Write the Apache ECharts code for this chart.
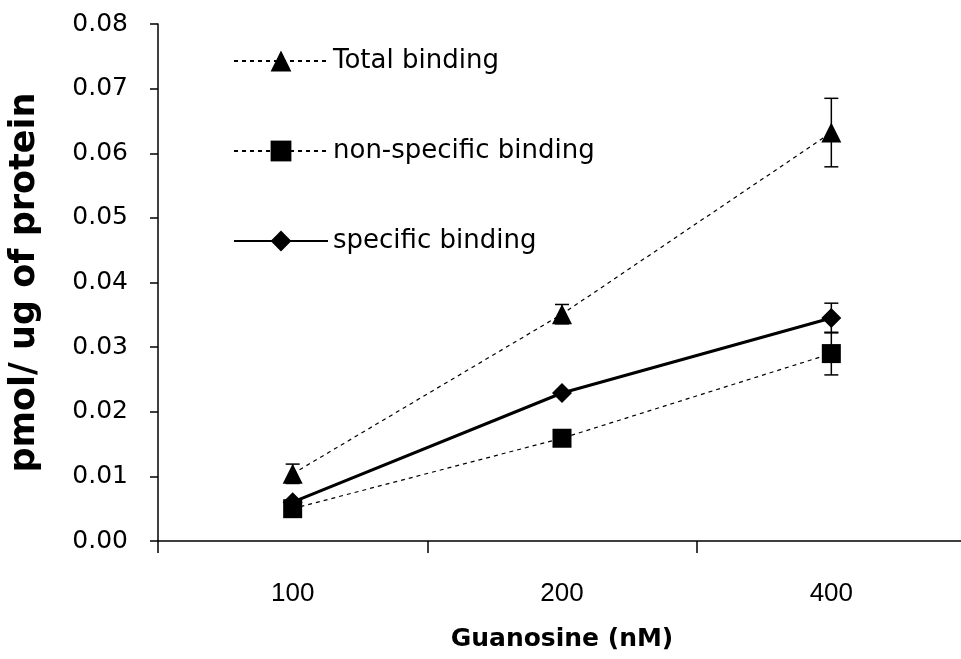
<!DOCTYPE html>
<html>
<head>
<meta charset="utf-8">
<script src="https://cdn.jsdelivr.net/npm/echarts@6/dist/echarts.min.js"></script>
<style>
html,body{margin:0;padding:0;background:#fff;}
#chart{width:961px;height:659px;}
</style>
</head>
<body>
<div id="chart"></div>
<script>
const categories = ['100', '200', '400'];
const totalBinding = [0.0104, 0.0351, 0.0632];
const totalErr = [0.0015, 0.0015, 0.0053];
const nonSpecific = [0.0050, 0.0159, 0.0290];
const nonSpecificErr = [0, 0, 0.0033];
const specific = [0.0060, 0.0229, 0.0345];
const specificErr = [0, 0, 0.0023];
const seriesNames = ['Total binding', 'non-specific binding', 'specific binding'];

function errData(vals, errs) {
  return vals.map((v, i) => [i, v, errs[i]]);
}

function renderErr(params, api) {
  const i = api.value(0), v = api.value(1), e = api.value(2);
  if (!e) return null;
  const top = api.coord([i, v + e]);
  const bot = api.coord([i, v - e]);
  const cap = 7;
  const style = { stroke: '#000', lineWidth: 1.5 };
  return {
    type: 'group',
    children: [
      { type: 'line', shape: { x1: top[0], y1: top[1], x2: bot[0], y2: bot[1] }, style },
      { type: 'line', shape: { x1: top[0] - cap, y1: top[1], x2: top[0] + cap, y2: top[1] }, style },
      { type: 'line', shape: { x1: bot[0] - cap, y1: bot[1], x2: bot[0] + cap, y2: bot[1] }, style }
    ]
  };
}

const chart = echarts.init(document.getElementById('chart'));
chart.setOption({
  animation: false,
  backgroundColor: '#fff',
  grid: { left: 158, width: 808, top: 24, bottom: 118, containLabel: false, outerBoundsMode: 'none' },
  legend: {
    orient: 'vertical',
    left: 228,
    top: 43,
    itemWidth: 94,
    itemHeight: 26,
    itemGap: 64,
    data: seriesNames,
    textStyle: { fontFamily: 'DejaVu Sans', fontSize: 26, color: '#000' }
  },
  xAxis: {
    type: 'category',
    data: categories,
    boundaryGap: true,
    axisLine: { lineStyle: { color: '#000', width: 1.5 } },
    axisTick: { show: true, length: 12, alignWithLabel: false, lineStyle: { color: '#000', width: 1.5 } },
    axisLabel: { margin: 40, fontFamily: 'Liberation Sans', fontSize: 26, color: '#000' },
    splitLine: { show: false },
    name: 'Guanosine (nM)',
    nameLocation: 'middle',
    nameGap: 86,
    nameTextStyle: { fontFamily: 'DejaVu Sans', fontWeight: 'bold', fontSize: 25, color: '#000' }
  },
  yAxis: {
    type: 'value',
    min: 0,
    max: 0.08,
    interval: 0.01,
    axisLine: { show: true, lineStyle: { color: '#000', width: 1.5 } },
    axisTick: { show: true, length: 8, lineStyle: { color: '#000', width: 1.5 } },
    axisLabel: { margin: 30, fontFamily: 'DejaVu Sans', fontSize: 25, color: '#000', formatter: v => v.toFixed(2) },
    splitLine: { show: false },
    name: 'pmol/ ug of protein',
    nameLocation: 'middle',
    nameGap: 116,
    nameTextStyle: { fontFamily: 'DejaVu Sans', fontWeight: 'bold', fontSize: 35, color: '#000' }
  },
  series: [
    {
      name: seriesNames[0], type: 'line', data: totalBinding,
      symbol: 'triangle', symbolSize: 20,
      lineStyle: { color: '#000', width: 1.2, type: [4, 4] },
      itemStyle: { color: '#000' }, z: 3
    },
    {
      name: seriesNames[1], type: 'line', data: nonSpecific,
      symbol: 'rect', symbolSize: 19,
      lineStyle: { color: '#000', width: 1.2, type: [4, 4] },
      itemStyle: { color: '#000' }, z: 3
    },
    {
      name: seriesNames[2], type: 'line', data: specific,
      symbol: 'diamond', symbolSize: 20,
      lineStyle: { color: '#000', width: 3, type: 'solid' },
      itemStyle: { color: '#000' }, z: 4
    },
    { type: 'custom', name: 'errT', renderItem: renderErr, data: errData(totalBinding, totalErr), z: 2, silent: true },
    { type: 'custom', name: 'errN', renderItem: renderErr, data: errData(nonSpecific, nonSpecificErr), z: 2, silent: true },
    { type: 'custom', name: 'errS', renderItem: renderErr, data: errData(specific, specificErr), z: 2, silent: true }
  ]
});
</script>
</body>
</html>
